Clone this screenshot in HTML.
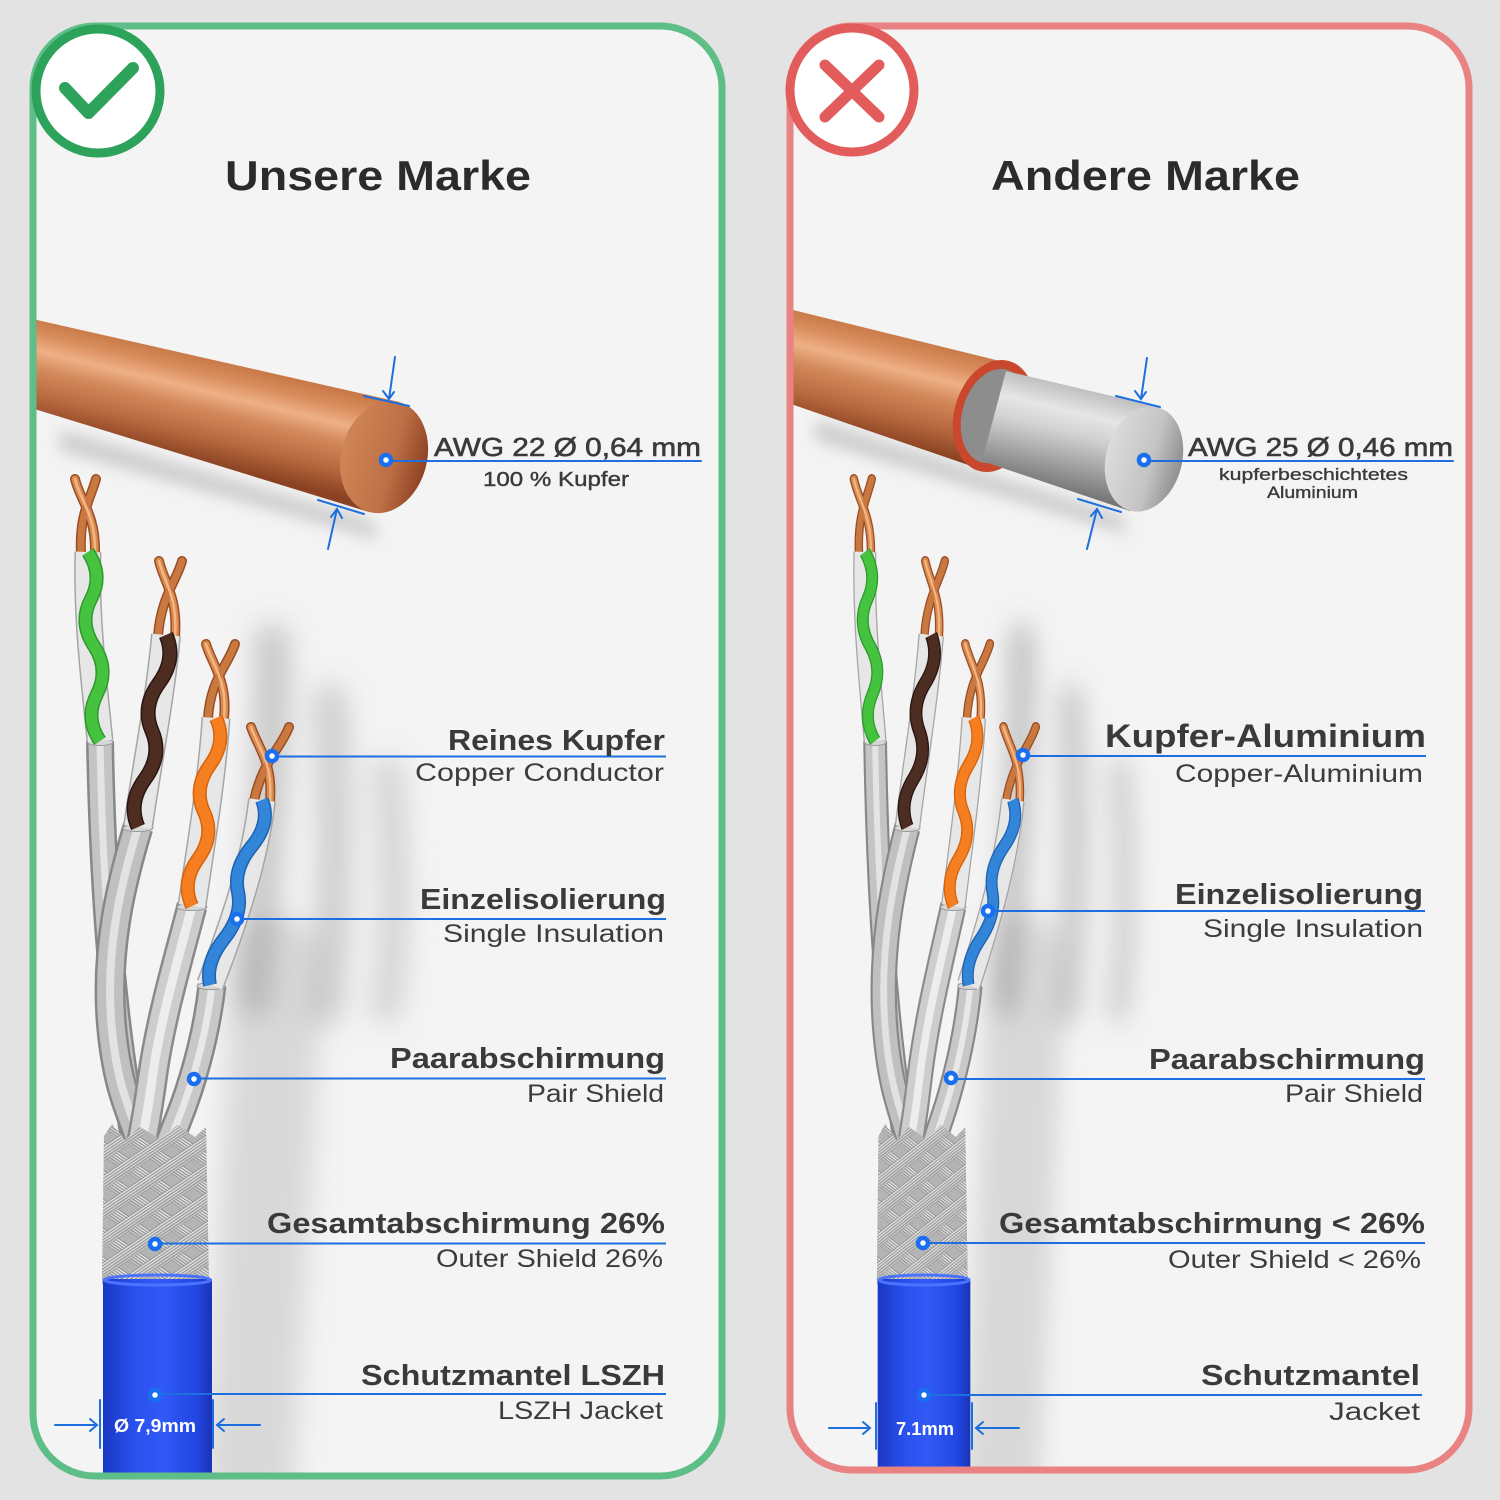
<!DOCTYPE html>
<html><head><meta charset="utf-8"><style>
html,body{margin:0;padding:0;background:#e3e3e3;}
svg{display:block;}
</style></head><body>
<svg width="1500" height="1500" viewBox="0 0 1500 1500" xmlns="http://www.w3.org/2000/svg" font-family="'Liberation Sans', Arial, sans-serif">
<defs>
 <filter id="blur14" x="-60%" y="-60%" width="220%" height="220%"><feGaussianBlur stdDeviation="14"/></filter>
 <filter id="blur8" x="-60%" y="-60%" width="220%" height="220%"><feGaussianBlur stdDeviation="8"/></filter>
 <clipPath id="clipL"><rect x="36.5" y="29.5" width="682" height="1443" rx="58"/></clipPath>
 <clipPath id="clipR"><rect x="793.5" y="29.5" width="672" height="1437" rx="58"/></clipPath>

 <linearGradient id="cuL" gradientUnits="userSpaceOnUse" x1="205" y1="354" x2="180" y2="458">
  <stop offset="0" stop-color="#c47442"/>
  <stop offset="0.18" stop-color="#d98d5c"/>
  <stop offset="0.34" stop-color="#eeb087"/>
  <stop offset="0.5" stop-color="#d48a5c"/>
  <stop offset="0.75" stop-color="#b8693f"/>
  <stop offset="1" stop-color="#8a4222"/>
 </linearGradient>
 <linearGradient id="cuR" gradientUnits="userSpaceOnUse" x1="912" y1="334" x2="885" y2="442">
  <stop offset="0" stop-color="#c47442"/>
  <stop offset="0.18" stop-color="#d98d5c"/>
  <stop offset="0.34" stop-color="#eeb087"/>
  <stop offset="0.5" stop-color="#d48a5c"/>
  <stop offset="0.75" stop-color="#b8693f"/>
  <stop offset="1" stop-color="#8a4222"/>
 </linearGradient>
 <linearGradient id="capCu" x1="0" y1="0" x2="1" y2="0">
  <stop offset="0" stop-color="#d08656"/>
  <stop offset="0.6" stop-color="#be7046"/>
  <stop offset="1" stop-color="#8e4223"/>
 </linearGradient>
 <linearGradient id="ag" gradientUnits="userSpaceOnUse" x1="1086" y1="386" x2="1060" y2="496">
  <stop offset="0" stop-color="#b9b9b9"/>
  <stop offset="0.25" stop-color="#e6e6e6"/>
  <stop offset="0.45" stop-color="#d0d0d0"/>
  <stop offset="0.75" stop-color="#9a9a9a"/>
  <stop offset="1" stop-color="#6e6e6e"/>
 </linearGradient>
 <linearGradient id="capAg" x1="0" y1="0" x2="1" y2="0">
  <stop offset="0" stop-color="#dcdcdc"/>
  <stop offset="0.6" stop-color="#c4c4c4"/>
  <stop offset="1" stop-color="#8f8f8f"/>
 </linearGradient>
 <linearGradient id="jk" x1="0" y1="0" x2="1" y2="0">
  <stop offset="0" stop-color="#1a37c4"/>
  <stop offset="0.3" stop-color="#2a51ee"/>
  <stop offset="0.55" stop-color="#3059f6"/>
  <stop offset="0.85" stop-color="#2347e2"/>
  <stop offset="1" stop-color="#1833b8"/>
 </linearGradient>
 <pattern id="pA" width="24" height="24" patternUnits="userSpaceOnUse" patternTransform="rotate(34)">
  <rect y="0" width="24" height="13" fill="#8f8f8f"/>
  <rect y="1" width="24" height="1.3" fill="#ececec"/>
  <rect y="3.5" width="24" height="1.3" fill="#ececec"/>
  <rect y="6" width="24" height="1.3" fill="#e4e4e4"/>
  <rect y="8.5" width="24" height="1.3" fill="#dcdcdc"/>
  <rect y="11" width="24" height="1.3" fill="#cfcfcf"/>
 </pattern>
 <pattern id="pB" width="24" height="24" patternUnits="userSpaceOnUse" patternTransform="rotate(-34)">
  <rect y="0" width="24" height="13" fill="#8f8f8f"/>
  <rect y="1" width="24" height="1.3" fill="#f0f0f0"/>
  <rect y="3.5" width="24" height="1.3" fill="#ececec"/>
  <rect y="6" width="24" height="1.3" fill="#e4e4e4"/>
  <rect y="8.5" width="24" height="1.3" fill="#dcdcdc"/>
  <rect y="11" width="24" height="1.3" fill="#cfcfcf"/>
 </pattern>

 <path id="s1" d="M100 741 C102 850 108 960 122 1060 S136 1140 140 1180"/>
 <path id="s2" d="M138 827 C122 880 104 950 112 1030 S140 1120 150 1180"/>
 <path id="s3" d="M192 906 C178 960 160 1020 152 1080 S140 1140 137 1180"/>
 <path id="s4" d="M212 985 C206 1040 190 1090 178 1120 S166 1150 164 1180"/>
 <path id="p1" d="M88 552 C86 620 94 680 100 741"/>
 <path id="p2" d="M166 635 C160 700 146 770 138 827"/>
 <path id="p3" d="M216 718 C212 780 200 850 192 906"/>
 <path id="p4" d="M262 800 C255 860 235 920 210 985"/>
 <path id="h1" d="M88 552 Q103.5 575.5 91 599 T94 646 T97 694 T100 741"/>
 <path id="h2" d="M166 635 Q176.5 659 159 683 T152 731 T145 779 T138 827"/>
 <path id="h3" d="M216 718 Q227 741.5 210 765 T204 812 T198 859 T192 906"/>
 <path id="h4" d="M262 800 Q271 823 252 846 T238 892 T224 939 T210 985"/>
 <path id="t1a" d="M75 479 C80 500 96 515 95 553"/>
 <path id="t1b" d="M96 479 C90 500 79 515 81 553"/>
 <path id="t2a" d="M159 561 C164 582 178 597 175 636"/>
 <path id="t2b" d="M182 561 C176 582 161 597 158 636"/>
 <path id="t3a" d="M206 644 C212 665 228 680 224 719"/>
 <path id="t3b" d="M235 644 C228 665 210 680 208 719"/>
 <path id="t4a" d="M251 727 C258 748 273 762 270 801"/>
 <path id="t4b" d="M289 727 C281 748 262 762 254 801"/>
 <path id="braid" d="M104 1136 L112 1124 L125 1140 L140 1127 L160 1139 L178 1125 L195 1137 L206 1127 L209 1284 L102 1284 Z"/>

 <g id="cable">
  <!-- soft shadows -->
  <g filter="url(#blur14)" fill="none" stroke="#8e8e8e" stroke-linecap="round">
   <path d="M272 640 C274 740 264 860 254 1000" stroke-width="34" stroke-opacity="0.45"/>
   <path d="M330 700 C336 790 338 890 326 1010" stroke-width="32" stroke-opacity="0.4"/>
   <path d="M388 770 C395 850 398 930 386 1010" stroke-width="28" stroke-opacity="0.35"/>
   <path d="M275 960 C275 1080 262 1250 250 1470" stroke-width="90" stroke-opacity="0.28"/>
  </g>
  <!-- copper tips -->
  <g fill="none" stroke-linecap="round">
   <use href="#t1a" stroke="#9a4d25" stroke-width="10"/><use href="#t1b" stroke="#9a4d25" stroke-width="10"/>
   <use href="#t2a" stroke="#9a4d25" stroke-width="10"/><use href="#t2b" stroke="#9a4d25" stroke-width="10"/>
   <use href="#t3a" stroke="#9a4d25" stroke-width="10"/><use href="#t3b" stroke="#9a4d25" stroke-width="10"/>
   <use href="#t4a" stroke="#9a4d25" stroke-width="10"/><use href="#t4b" stroke="#9a4d25" stroke-width="10"/>
   <use href="#t1a" stroke="#d88a4f" stroke-width="7"/><use href="#t1b" stroke="#c97840" stroke-width="7"/>
   <use href="#t2a" stroke="#d88a4f" stroke-width="7"/><use href="#t2b" stroke="#c97840" stroke-width="7"/>
   <use href="#t3a" stroke="#d88a4f" stroke-width="7"/><use href="#t3b" stroke="#c97840" stroke-width="7"/>
   <use href="#t4a" stroke="#d88a4f" stroke-width="7"/><use href="#t4b" stroke="#c97840" stroke-width="7"/>
   <use href="#t1a" stroke="#f4b784" stroke-width="2.5"/><use href="#t2a" stroke="#f4b784" stroke-width="2.5"/>
   <use href="#t3a" stroke="#f4b784" stroke-width="2.5"/><use href="#t4a" stroke="#f4b784" stroke-width="2.5"/>
  </g>
  <!-- shields -->
  <g fill="none">
   <use href="#s1" stroke="#878787" stroke-width="28"/>
   <use href="#s1" stroke="#c4c4c4" stroke-width="23"/>
   <use href="#s1" stroke="#e4e4e4" stroke-width="7"/>
   <use href="#s2" stroke="#878787" stroke-width="31"/>
   <use href="#s2" stroke="#c0c0c0" stroke-width="26"/>
   <use href="#s2" stroke="#e2e2e2" stroke-width="8"/>
   <use href="#s4" stroke="#878787" stroke-width="29"/>
   <use href="#s4" stroke="#c8c8c8" stroke-width="24"/>
   <use href="#s4" stroke="#e8e8e8" stroke-width="7"/>
   <use href="#s3" stroke="#8a8a8a" stroke-width="31"/>
   <use href="#s3" stroke="#cdcdcd" stroke-width="26"/>
   <use href="#s3" stroke="#ededed" stroke-width="9"/>
  </g>
  <ellipse cx="100" cy="742" rx="13" ry="3.5" fill="#d6d6d6" stroke="#9a9a9a"/>
  <ellipse cx="138" cy="828" rx="15" ry="3.5" fill="#d6d6d6" stroke="#9a9a9a"/>
  <ellipse cx="192" cy="907" rx="15" ry="3.5" fill="#d6d6d6" stroke="#9a9a9a"/>
  <ellipse cx="211" cy="986" rx="14" ry="3.5" fill="#d6d6d6" stroke="#9a9a9a"/>
  <!-- twisted pairs -->
  <g fill="none" stroke-linecap="butt">
   <use href="#p1" stroke="#a5a5a5" stroke-width="27"/>
   <use href="#p1" stroke="#e7e7e7" stroke-width="24"/>
   <use href="#h1" stroke="#2e9a2e" stroke-width="14"/>
   <use href="#h1" stroke="#45c23e" stroke-width="11"/>
   <use href="#p2" stroke="#a5a5a5" stroke-width="30"/>
   <use href="#p2" stroke="#e7e7e7" stroke-width="27"/>
   <use href="#h2" stroke="#2a150f" stroke-width="15"/>
   <use href="#h2" stroke="#4d2c22" stroke-width="12"/>
   <use href="#p3" stroke="#a5a5a5" stroke-width="29"/>
   <use href="#p3" stroke="#e7e7e7" stroke-width="26"/>
   <use href="#h3" stroke="#d5620c" stroke-width="14"/>
   <use href="#h3" stroke="#f57f20" stroke-width="11"/>
   <use href="#p4" stroke="#a5a5a5" stroke-width="28"/>
   <use href="#p4" stroke="#e7e7e7" stroke-width="25"/>
   <use href="#h4" stroke="#1f62b0" stroke-width="14"/>
   <use href="#h4" stroke="#3285d8" stroke-width="11"/>
  </g>
  <!-- braid -->
  <use href="#braid" fill="#b4b4b4"/>
  <use href="#braid" fill="url(#pA)"/>
  <use href="#braid" fill="url(#pB)" fill-opacity="0.85"/>
  <!-- jacket -->
  <rect x="103" y="1279" width="109" height="215" fill="url(#jk)"/>
  <ellipse cx="157.5" cy="1280" rx="53" ry="5" fill="none" stroke="#4a74ff" stroke-width="3"/>
 </g>
</defs>

<!-- background -->
<rect width="1500" height="1500" fill="#e3e3e3"/>

<!-- ================= LEFT PANEL ================= -->
<rect x="33" y="26" width="689" height="1450" rx="62" fill="#f4f4f4"/>
<g clip-path="url(#clipL)">
 <!-- rod shadow -->
 <path d="M60 430 L370 520 L380 540 L60 450 Z" fill="#7a7a7a" fill-opacity="0.35" filter="url(#blur8)"/>
 <!-- copper rod -->
 <path d="M28 318 L399 402 L369 512 L28 407 Z" fill="url(#cuL)"/>
 <ellipse cx="384" cy="457" rx="43" ry="57" transform="rotate(15 384 457)" fill="url(#capCu)"/>
 <use href="#cable"/>
</g>
<rect x="33" y="26" width="689" height="1450" rx="62" fill="none" stroke="#5dbe88" stroke-width="7"/>

<!-- check circle -->
<circle cx="98" cy="91" r="62" fill="#ffffff" stroke="#2ca25a" stroke-width="9"/>
<polyline points="65,88 88.5,113 133,68" fill="none" stroke="#2ca25a" stroke-width="12" stroke-linecap="round" stroke-linejoin="round"/>

<text x="225" y="190" font-size="42" font-weight="bold" fill="#2b2b2b" textLength="306" lengthAdjust="spacingAndGlyphs">Unsere Marke</text>

<!-- rod dimension -->
<g stroke="#1d6fe0" stroke-width="2" fill="none" stroke-linecap="round">
 <line x1="395" y1="357" x2="389" y2="399"/>
 <polyline points="383,391 389,399 394,392"/>
 <line x1="364" y1="396" x2="409" y2="406"/>
 <line x1="328" y1="549" x2="337" y2="509"/>
 <polyline points="331,517 337,509 342,518"/>
 <line x1="318" y1="500" x2="364" y2="514"/>
 <line x1="386" y1="461" x2="701" y2="461"/>
</g>
<circle cx="386" cy="460" r="5" fill="#fff" stroke="#1a6ff0" stroke-width="4.5"/>
<text x="434" y="456" font-size="26" fill="#3a3a3a" stroke="#3a3a3a" stroke-width="0.6" textLength="267" lengthAdjust="spacingAndGlyphs">AWG 22 Ø 0,64 mm</text>
<text x="483" y="486" font-size="20" fill="#3a3a3a" stroke="#3a3a3a" stroke-width="0.4" textLength="146" lengthAdjust="spacingAndGlyphs">100 % Kupfer</text>

<!-- left labels -->
<g stroke="#1d6fe0" stroke-width="2">
 <line x1="272" y1="756.5" x2="666" y2="756.5"/>
 <line x1="237" y1="919" x2="666" y2="919"/>
 <line x1="194" y1="1078.5" x2="666" y2="1078.5"/>
 <line x1="155" y1="1243.5" x2="666" y2="1243.5"/>
 <line x1="155" y1="1394" x2="666" y2="1394"/>
</g>
<g fill="#fff" stroke="#1a6ff0" stroke-width="4.5">
 <circle cx="272" cy="756" r="5"/>
 <circle cx="237" cy="919" r="5"/>
 <circle cx="194" cy="1079" r="5"/>
 <circle cx="155" cy="1244" r="5"/>
 <circle cx="155" cy="1395" r="5"/>
</g>
<g font-weight="bold" font-size="29" fill="#3a3a3a">
 <text x="448" y="750" textLength="217" lengthAdjust="spacingAndGlyphs">Reines Kupfer</text>
 <text x="420" y="909" textLength="246" lengthAdjust="spacingAndGlyphs">Einzelisolierung</text>
 <text x="390" y="1068" textLength="275" lengthAdjust="spacingAndGlyphs">Paarabschirmung</text>
 <text x="267" y="1233" textLength="398" lengthAdjust="spacingAndGlyphs">Gesamtabschirmung 26%</text>
 <text x="361" y="1385" textLength="304" lengthAdjust="spacingAndGlyphs">Schutzmantel LSZH</text>
</g>
<g font-size="25" fill="#3c3c3c">
 <text x="415" y="781" textLength="249" lengthAdjust="spacingAndGlyphs">Copper Conductor</text>
 <text x="443" y="942" textLength="221" lengthAdjust="spacingAndGlyphs">Single Insulation</text>
 <text x="527" y="1102" textLength="137" lengthAdjust="spacingAndGlyphs">Pair Shield</text>
 <text x="436" y="1267" textLength="227" lengthAdjust="spacingAndGlyphs">Outer Shield 26%</text>
 <text x="498" y="1419" textLength="165" lengthAdjust="spacingAndGlyphs">LSZH Jacket</text>
</g>
<!-- jacket dimension left -->
<g stroke="#1d6fe0" stroke-width="2" fill="none" stroke-linecap="round">
 <line x1="55" y1="1425" x2="97" y2="1425"/>
 <polyline points="90,1419 97,1425 90,1431"/>
 <line x1="100" y1="1400" x2="100" y2="1448"/>
 <line x1="213" y1="1400" x2="213" y2="1448"/>
 <line x1="217" y1="1425" x2="260" y2="1425"/>
 <polyline points="224,1419 217,1425 224,1431"/>
</g>
<text x="114" y="1432" font-size="18" font-weight="bold" fill="#ffffff" textLength="82" lengthAdjust="spacingAndGlyphs">Ø 7,9mm</text>

<!-- ================= RIGHT PANEL ================= -->
<rect x="790" y="26" width="679" height="1444" rx="62" fill="#f4f4f4"/>
<g clip-path="url(#clipR)">
 <path d="M815 420 L1120 515 L1130 535 L815 440 Z" fill="#7a7a7a" fill-opacity="0.35" filter="url(#blur8)"/>
 <!-- copper clad -->
 <path d="M785 308 L1008 363 L980 469 L785 402 Z" fill="url(#cuR)"/>
 <ellipse cx="994" cy="416" rx="40" ry="57" transform="rotate(15 994 416)" fill="#c9472c"/>
 <ellipse cx="994" cy="416" rx="32" ry="48" transform="rotate(15 994 416)" fill="#8d8d8d"/>
 <!-- aluminium core -->
 <path d="M1006 371 L1158 407 L1130 511 L982 461 Z" fill="url(#ag)"/>
 <ellipse cx="1144" cy="459" rx="38" ry="53.5" transform="rotate(15 1144 459)" fill="url(#capAg)"/>
 <use href="#cable" transform="translate(924 0) scale(0.85 1) translate(-157.5 0)"/>
</g>
<rect x="790" y="26" width="679" height="1444" rx="62" fill="none" stroke="#e98282" stroke-width="7"/>

<!-- X circle -->
<circle cx="852" cy="90" r="62" fill="#ffffff" stroke="#e35c5c" stroke-width="9"/>
<g stroke="#e35c5c" stroke-width="11" stroke-linecap="round">
 <line x1="825" y1="65" x2="879" y2="117"/>
 <line x1="879" y1="65" x2="825" y2="117"/>
</g>

<text x="991" y="190" font-size="42" font-weight="bold" fill="#2b2b2b" textLength="309" lengthAdjust="spacingAndGlyphs">Andere Marke</text>

<g stroke="#1d6fe0" stroke-width="2" fill="none" stroke-linecap="round">
 <line x1="1147" y1="358" x2="1141" y2="399"/>
 <polyline points="1135,391 1141,399 1146,392"/>
 <line x1="1116" y1="396" x2="1160" y2="407"/>
 <line x1="1087" y1="549" x2="1097" y2="509"/>
 <polyline points="1091,516 1097,509 1102,518"/>
 <line x1="1078" y1="499" x2="1121" y2="512"/>
 <line x1="1144" y1="461" x2="1453" y2="461"/>
</g>
<circle cx="1144" cy="460" r="5" fill="#fff" stroke="#1a6ff0" stroke-width="4.5"/>
<text x="1188" y="456" font-size="26" fill="#3a3a3a" stroke="#3a3a3a" stroke-width="0.6" textLength="265" lengthAdjust="spacingAndGlyphs">AWG 25 Ø 0,46 mm</text>
<text x="1219" y="480" font-size="17" fill="#3a3a3a" stroke="#3a3a3a" stroke-width="0.35" textLength="189" lengthAdjust="spacingAndGlyphs">kupferbeschichtetes</text>
<text x="1267" y="498" font-size="17" fill="#3a3a3a" stroke="#3a3a3a" stroke-width="0.35" textLength="91" lengthAdjust="spacingAndGlyphs">Aluminium</text>

<g stroke="#1d6fe0" stroke-width="2">
 <line x1="1023" y1="756" x2="1426" y2="756"/>
 <line x1="988" y1="911" x2="1425" y2="911"/>
 <line x1="951" y1="1079" x2="1425" y2="1079"/>
 <line x1="923" y1="1243" x2="1425" y2="1243"/>
 <line x1="924" y1="1395" x2="1422" y2="1395"/>
</g>
<g fill="#fff" stroke="#1a6ff0" stroke-width="4.5">
 <circle cx="1023" cy="755" r="5"/>
 <circle cx="988" cy="911" r="5"/>
 <circle cx="951" cy="1078" r="5"/>
 <circle cx="923" cy="1243" r="5"/>
 <circle cx="924" cy="1395" r="5"/>
</g>
<g font-weight="bold" font-size="29" fill="#3a3a3a">
 <text x="1105" y="747" font-size="32" textLength="321" lengthAdjust="spacingAndGlyphs">Kupfer-Aluminium</text>
 <text x="1175" y="904" textLength="248" lengthAdjust="spacingAndGlyphs">Einzelisolierung</text>
 <text x="1149" y="1069" textLength="276" lengthAdjust="spacingAndGlyphs">Paarabschirmung</text>
 <text x="999" y="1233" textLength="426" lengthAdjust="spacingAndGlyphs">Gesamtabschirmung &lt; 26%</text>
 <text x="1201" y="1385" textLength="219" lengthAdjust="spacingAndGlyphs">Schutzmantel</text>
</g>
<g font-size="25" fill="#3c3c3c">
 <text x="1175" y="782" textLength="248" lengthAdjust="spacingAndGlyphs">Copper-Aluminium</text>
 <text x="1203" y="937" textLength="220" lengthAdjust="spacingAndGlyphs">Single Insulation</text>
 <text x="1285" y="1102" textLength="138" lengthAdjust="spacingAndGlyphs">Pair Shield</text>
 <text x="1168" y="1268" textLength="253" lengthAdjust="spacingAndGlyphs">Outer Shield &lt; 26%</text>
 <text x="1329" y="1420" textLength="91" lengthAdjust="spacingAndGlyphs">Jacket</text>
</g>
<g stroke="#1d6fe0" stroke-width="2" fill="none" stroke-linecap="round">
 <line x1="829" y1="1428" x2="870" y2="1428"/>
 <polyline points="863,1422 870,1428 863,1434"/>
 <line x1="876" y1="1403" x2="876" y2="1449"/>
 <line x1="972" y1="1403" x2="972" y2="1449"/>
 <line x1="976" y1="1428" x2="1019" y2="1428"/>
 <polyline points="983,1422 976,1428 983,1434"/>
</g>
<text x="896" y="1435" font-size="18" font-weight="bold" fill="#ffffff" textLength="58" lengthAdjust="spacingAndGlyphs">7.1mm</text>
</svg>
</body></html>
